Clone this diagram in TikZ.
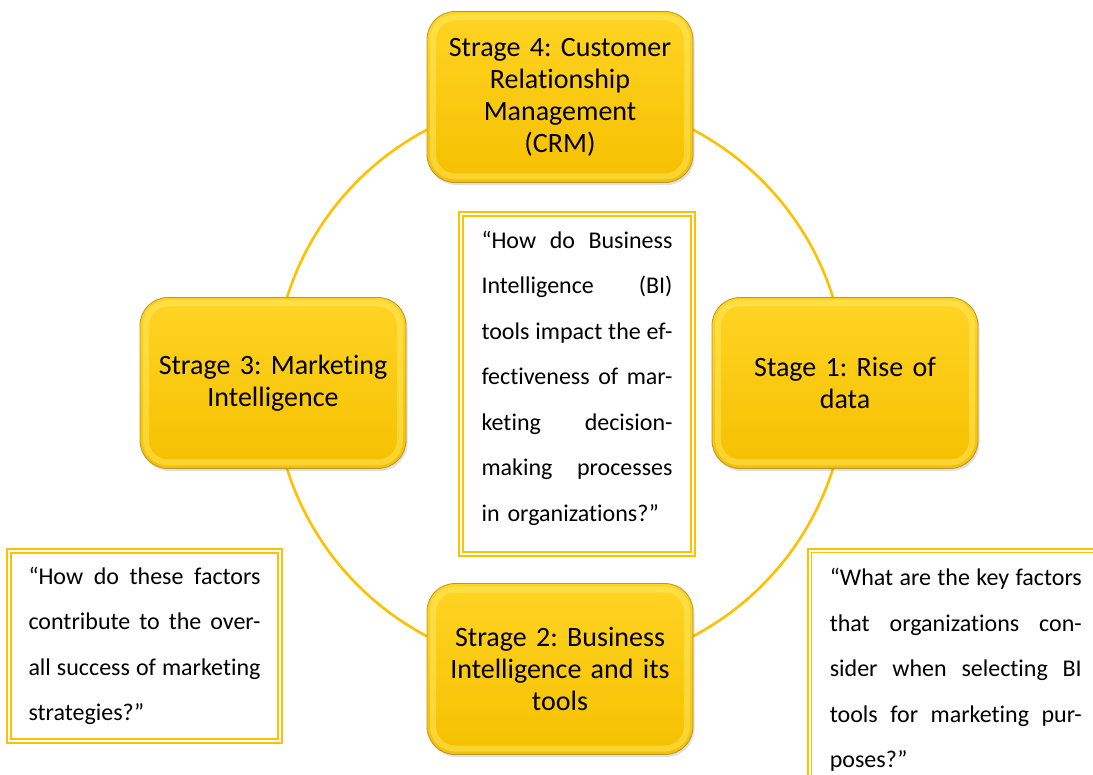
\documentclass[tikz,border=0pt]{standalone}
\usepackage{fontspec}
\setmainfont{Carlito}[Ligatures={TeX,NoCommon}]
\usetikzlibrary{positioning, shadows}

\definecolor{stagetop}{RGB}{255,212,36}
\definecolor{stagebot}{RGB}{245,192,0}
\definecolor{stageedge}{RGB}{186,148,44}
\definecolor{stagerim}{RGB}{255,238,110}
\definecolor{ringgold}{RGB}{255,192,0}

% one justified line of a question box
\newcommand{\jl}[2]{\leavevmode\hbox to #1{#2}}

\frenchspacing

\begin{document}
\begin{tikzpicture}[x=1pt, y=-1pt,
  stage/.style={rectangle, rounded corners=28pt, minimum width=266pt, minimum height=171pt,
    top color=stagetop, bottom color=stagebot, draw=stageedge, line width=0.8pt,
    drop shadow={opacity=0.25, shadow xshift=1.5pt, shadow yshift=-2.5pt},
    path picture={\draw[stagerim, line width=6pt, opacity=0.45, rounded corners=22pt]
      ([shift={(6pt,6pt)}]path picture bounding box.south west) rectangle
      ([shift={(-6pt,-6pt)}]path picture bounding box.north east);},
    align=center, text width=250pt, font=\fontsize{28}{32}\selectfont},
  qbox/.style={rectangle, draw=ringgold, double=white, double distance=2pt, line width=1.6pt,
    fill=white, align=left, font=\fontsize{24}{45.5}\selectfont}]
  \clip (0,0) rectangle (1093,775);

  \coordinate (hub) at (560,383);
  \draw[ringgold, line width=2.6pt] (hub) circle (286pt);

  \node[stage] (s4) at (560,97) {Strage 4: Customer\\Relationship\\Management\\(CRM)};
  \node[stage] (s1) at (845,383) {Stage 1: Rise of\\data};
  \node[stage] (s3) at (273,383) {Strage 3: Marketing\\Intelligence};
  \node[stage] (s2) at (560,669) {Strage 2: Business\\Intelligence and its\\tools};

  \node[qbox, text width=191pt, minimum width=232pt, minimum height=340pt, text depth=289pt] (mainq) at (577,384)
    {\jl{191pt}{“How\hfill do\hfill Business}\\
     \jl{191pt}{Intelligence\hfill (BI)}\\
     \jl{191pt}{tools\hfill impact\hfill the\hfill ef-}\\
     \jl{191pt}{fectiveness\hfill of\hfill mar-}\\
     \jl{191pt}{keting\hfill decision-}\\
     \jl{191pt}{making\hfill processes}\\
     in organizations?”};

  \node[qbox, text width=232pt, minimum width=271pt, minimum height=190pt] (leftq) at (144.5,646)
    {\jl{232pt}{“How\hfill do\hfill these\hfill factors}\\
     \jl{232pt}{contribute\hfill to\hfill the\hfill over-}\\
     \jl{232pt}{all\hfill success\hfill of\hfill marketing}\\
     strategies?”};

  \node[qbox, text width=252pt, minimum width=292pt, minimum height=238pt, anchor=north west] (rightq) at (809,550)
    {\jl{252pt}{“What\hfill are\hfill the\hfill key\hfill factors}\\
     \jl{252pt}{that\hfill organizations\hfill con-}\\
     \jl{252pt}{sider\hfill when\hfill selecting\hfill BI}\\
     \jl{252pt}{tools\hfill for\hfill marketing\hfill pur-}\\
     poses?”};
\end{tikzpicture}
\end{document}
